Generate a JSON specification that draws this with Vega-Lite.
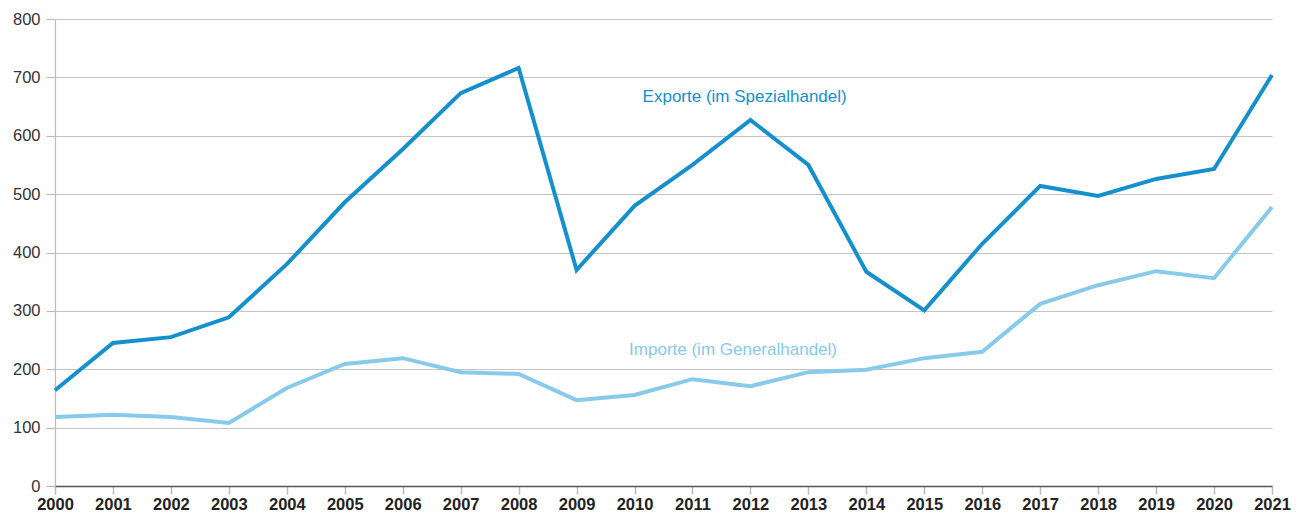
{
  "$schema": "https://vega.github.io/schema/vega-lite/v6.json",
  "width": 1217,
  "height": 467,
  "autosize": {"type": "none"},
  "padding": {"left": 55, "top": 19, "right": 34, "bottom": 36},
  "background": "white",
  "config": {
    "view": {"stroke": null},
    "font": "Liberation Sans"
  },
  "datasets": {
    "trade": [
      {"year": 2000, "series": "Exporte", "value": 164},
      {"year": 2001, "series": "Exporte", "value": 245},
      {"year": 2002, "series": "Exporte", "value": 255},
      {"year": 2003, "series": "Exporte", "value": 289},
      {"year": 2004, "series": "Exporte", "value": 380},
      {"year": 2005, "series": "Exporte", "value": 486},
      {"year": 2006, "series": "Exporte", "value": 577},
      {"year": 2007, "series": "Exporte", "value": 673},
      {"year": 2008, "series": "Exporte", "value": 716},
      {"year": 2009, "series": "Exporte", "value": 370},
      {"year": 2010, "series": "Exporte", "value": 480},
      {"year": 2011, "series": "Exporte", "value": 550},
      {"year": 2012, "series": "Exporte", "value": 627},
      {"year": 2013, "series": "Exporte", "value": 550},
      {"year": 2014, "series": "Exporte", "value": 367},
      {"year": 2015, "series": "Exporte", "value": 301},
      {"year": 2016, "series": "Exporte", "value": 415},
      {"year": 2017, "series": "Exporte", "value": 514},
      {"year": 2018, "series": "Exporte", "value": 497},
      {"year": 2019, "series": "Exporte", "value": 526},
      {"year": 2020, "series": "Exporte", "value": 543},
      {"year": 2021, "series": "Exporte", "value": 704},
      {"year": 2000, "series": "Importe", "value": 118},
      {"year": 2001, "series": "Importe", "value": 122},
      {"year": 2002, "series": "Importe", "value": 118},
      {"year": 2003, "series": "Importe", "value": 108},
      {"year": 2004, "series": "Importe", "value": 168},
      {"year": 2005, "series": "Importe", "value": 209},
      {"year": 2006, "series": "Importe", "value": 219},
      {"year": 2007, "series": "Importe", "value": 195},
      {"year": 2008, "series": "Importe", "value": 192},
      {"year": 2009, "series": "Importe", "value": 147},
      {"year": 2010, "series": "Importe", "value": 156},
      {"year": 2011, "series": "Importe", "value": 183},
      {"year": 2012, "series": "Importe", "value": 171},
      {"year": 2013, "series": "Importe", "value": 195},
      {"year": 2014, "series": "Importe", "value": 199},
      {"year": 2015, "series": "Importe", "value": 219},
      {"year": 2016, "series": "Importe", "value": 230},
      {"year": 2017, "series": "Importe", "value": 312},
      {"year": 2018, "series": "Importe", "value": 344},
      {"year": 2019, "series": "Importe", "value": 368},
      {"year": 2020, "series": "Importe", "value": 356},
      {"year": 2021, "series": "Importe", "value": 478}
    ],
    "labels": [
      {"year": 2011.9, "series": "Exporte", "value": 666, "label": "Exporte (im Spezialhandel)"},
      {"year": 2011.7, "series": "Importe", "value": 233, "label": "Importe (im Generalhandel)"}
    ]
  },
  "layer": [
    {
      "data": {"name": "trade"},
      "mark": {"type": "line", "strokeWidth": 4, "strokeJoin": "miter", "clip": false},
      "encoding": {
        "x": {
          "field": "year", "type": "quantitative",
          "scale": {"domain": [2000, 2021], "nice": false, "zero": false},
          "axis": {
            "values": [2000,2001,2002,2003,2004,2005,2006,2007,2008,2009,2010,2011,2012,2013,2014,2015,2016,2017,2018,2019,2020,2021],
            "format": "d", "title": null, "grid": false,
            "domain": true, "domainColor": "#555555", "domainWidth": 1.5,
            "ticks": true, "tickColor": "#bbbbbb", "tickSize": 8, "tickWidth": 1.5,
            "labelFontSize": 16.5, "labelFontWeight": "bold", "labelColor": "#222222",
            "labelPadding": 2, "labelFlush": false
          }
        },
        "y": {
          "field": "value", "type": "quantitative",
          "scale": {"domain": [0, 800], "nice": false},
          "axis": {
            "values": [0,100,200,300,400,500,600,700,800],
            "title": null, "grid": true, "gridColor": "#c4c4c4", "gridWidth": 1.2,
            "domain": true, "domainColor": "#bbbbbb", "domainWidth": 1.2,
            "ticks": true, "tickColor": "#bbbbbb", "tickSize": 9, "tickWidth": 1.2,
            "labelFontSize": 16.5, "labelColor": "#333333", "labelPadding": 6
          }
        },
        "color": {
          "field": "series", "type": "nominal",
          "scale": {"domain": ["Importe", "Exporte"], "range": ["#88caea", "#1690cd"]},
          "legend": null
        },
        "order": {"field": "year", "type": "quantitative"}
      }
    },
    {
      "data": {"name": "labels"},
      "mark": {"type": "text", "fontSize": 17, "align": "center", "baseline": "middle"},
      "encoding": {
        "x": {"field": "year", "type": "quantitative"},
        "y": {"field": "value", "type": "quantitative"},
        "text": {"field": "label"},
        "color": {
          "field": "series", "type": "nominal",
          "scale": {"domain": ["Importe", "Exporte"], "range": ["#88caea", "#1690cd"]},
          "legend": null
        }
      }
    }
  ]
}
